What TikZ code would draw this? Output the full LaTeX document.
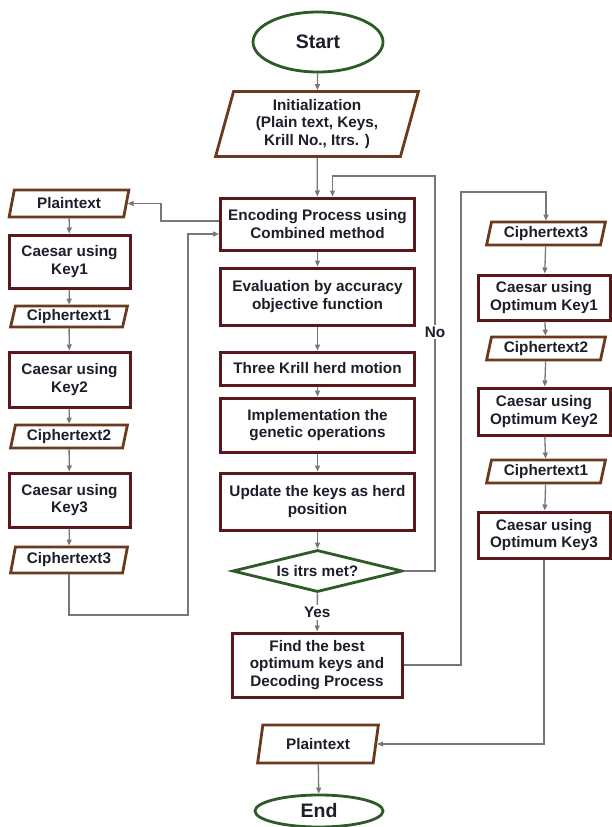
\documentclass[tikz,border=0pt]{standalone}
\usepackage{fontspec}
\setmainfont{Liberation Sans}
\usepackage{tikz}
\usetikzlibrary{shapes.geometric, arrows.meta, positioning, calc}
\definecolor{boxmaroon}{HTML}{5A181C}
\definecolor{iobrown}{HTML}{6B3A1E}
\definecolor{termgreen}{HTML}{2E5A28}
\definecolor{linegray}{HTML}{777777}
\definecolor{inkdark}{HTML}{1E1E2A}

\begin{document}
\begin{tikzpicture}[x=1pt, y=-1pt,
    every node/.style={text=inkdark, font=\fontsize{15.3}{17.5}\selectfont\bfseries, align=center, inner sep=0pt},
    procbox/.style={draw=boxmaroon, line width=3pt, fill=white, rectangle, minimum width=#1},
    procbox/.default=194pt,
    iobox/.style={draw=iobrown, line width=2.8pt, fill=white, trapezium, trapezium left angle=75, trapezium right angle=105, trapezium stretches=true, minimum width=#1},
    iobox/.default=120pt,
    termbox/.style={draw=termgreen, line width=2.8pt, fill=white, ellipse, font=\fontsize{19.5}{22}\selectfont\bfseries},
    flow/.style={draw=linegray, line width=1.3pt, -{Triangle[length=6pt,width=5pt]}},
    tag/.style={fill=white, inner sep=2pt}]
  \fill[white] (0,0) rectangle (611,827);
  \useasboundingbox (0,0) rectangle (611,827);

  % centre column
  \node[termbox, minimum width=130pt, minimum height=60pt] (start) at (318,42) {Start};
  \node[iobox=203pt, minimum height=65pt] (init) at (317,124) {Initialization\\(Plain text, Keys,\\Krill No., Itrs. )};
  \node[procbox, minimum height=52pt] (enc) at (317.5,224) {Encoding Process using\\Combined method};
  \node[procbox, minimum height=57pt] (eval) at (317.5,296.5) {Evaluation by accuracy\\objective function};
  \node[procbox, minimum height=33pt] (krill) at (317.5,368.5) {Three Krill herd motion};
  \node[procbox, minimum height=54pt] (impl) at (317.5,425) {Implementation the\\genetic operations};
  \node[procbox, minimum height=57pt] (upd) at (317.5,501.5) {Update the keys as herd\\position};
  \node[draw=termgreen, line width=2.8pt, fill=white, diamond, aspect=4, minimum width=170pt, minimum height=42pt] (itrs) at (317.5,571) {Is itrs met?};
  \node[procbox=170pt, minimum height=64pt] (best) at (317,665) {Find the best\\optimum keys and\\Decoding Process};
  \node[iobox=121pt, minimum height=38pt] (plainB) at (318,744) {Plaintext};
  \node[termbox, minimum width=128pt, minimum height=32pt] (finish) at (319,811) {End};

  % encoding column
  \node[iobox, minimum height=27pt] (plainL) at (69,203.5) {Plaintext};
  \node[procbox=121pt, minimum height=53pt] (key1) at (69.5,261.5) {Caesar using\\Key1};
  \node[iobox=118pt, minimum height=21pt] (ctA) at (69,316.5) {Ciphertext1};
  \node[procbox=121pt, minimum height=55pt] (key2) at (69.5,379.5) {Caesar using\\Key2};
  \node[iobox=118pt, minimum height=23pt] (ctB) at (69,436.5) {Ciphertext2};
  \node[procbox=121pt, minimum height=54pt] (key3) at (69.5,500) {Caesar using\\Key3};
  \node[iobox=118pt, minimum height=26pt] (ctC) at (69,560) {Ciphertext3};

  % decoding column
  \node[iobox, minimum height=23pt] (dctC) at (546,233.5) {Ciphertext3};
  \node[procbox=132pt, minimum height=45pt] (opt1) at (544,297.5) {Caesar using\\Optimum Key1};
  \node[iobox, minimum height=23pt] (dctB) at (546,348.5) {Ciphertext2};
  \node[procbox=132pt, minimum height=47pt] (opt2) at (544,411.5) {Caesar using\\Optimum Key2};
  \node[iobox, minimum height=23pt] (dctA) at (546,471.5) {Ciphertext1};
  \node[procbox=132pt, minimum height=46pt] (opt3) at (544,535) {Caesar using\\Optimum Key3};

  \coordinate (noTop) at (435,176);
  \coordinate (encIn) at (188,615);
  \coordinate (decTop) at (461,192);

  % connectors
  \draw[flow] (start) -- (init);
  \draw[flow] (init) -- (enc);
  \draw[flow] (enc) -- (eval);
  \draw[flow] (eval) -- (krill);
  \draw[flow] (krill) -- (impl);
  \draw[flow] (impl) -- (upd);
  \draw[flow] (upd) -- (itrs);
  \draw[flow] (itrs) -- node[tag, pos=0.5] (yes) {Yes} (best);
  \draw[flow] (itrs.east) -| (noTop) -| ([xshift=15pt]enc.north);
  \node[tag] (no) at (435,332) {No};
  \draw[flow] ([yshift=3pt]enc.west) -- ++(-58,0) |- (plainL.east);
  \draw[flow] (plainL) -- (key1);
  \draw[flow] (key1) -- (ctA);
  \draw[flow] (ctA) -- (key2);
  \draw[flow] (key2) -- (ctB);
  \draw[flow] (ctB) -- (key3);
  \draw[flow] (key3) -- (ctC);
  \draw[flow] (ctC.south) |- (encIn) |- ([yshift=-10pt]enc.west);
  \draw[flow] (best.east) -| (decTop) -| (dctC.north);
  \draw[flow] (dctC) -- (opt1);
  \draw[flow] (opt1) -- (dctB);
  \draw[flow] (dctB) -- (opt2);
  \draw[flow] (opt2) -- (dctA);
  \draw[flow] (dctA) -- (opt3);
  \draw[flow] (opt3.south) |- (plainB.east);
  \draw[flow] (plainB) -- (finish);
\end{tikzpicture}
\end{document}
